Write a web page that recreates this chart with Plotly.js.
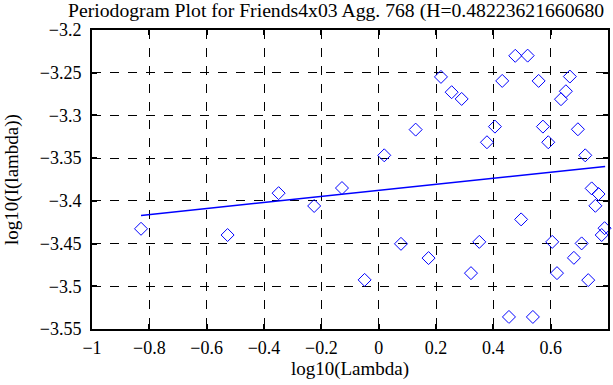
<!DOCTYPE html>
<html><head><meta charset="utf-8">
<script src="https://cdn.plot.ly/plotly-3.0.1.min.js"></script>
<style>html,body{margin:0;padding:0;background:#fff}#plot{width:613px;height:385px}</style>
</head><body><div id="plot"></div>
<script>
const logLambda = [-0.829,-0.527,-0.349,-0.225,-0.128,
  0.4765,0.5197,0.2173,0.431,0.558,0.667,0.2546,0.2895,0.653,0.636,0.129,0.4056,0.573,0.695,0.3777,0.5916,0.0195,0.7206,
  0.743,0.767,0.756,0.497,0.788,0.778,0.0778,0.351,0.6055,0.708,0.174,0.681,-0.049,0.322,0.622,0.731,0.4545,0.538];
const logI = [-3.4327,-3.440,-3.391,-3.406,-3.385,
  -3.2302,-3.230,-3.2549,-3.2596,-3.2596,-3.2545,-3.2728,-3.2807,-3.2717,-3.281,-3.3166,-3.3131,-3.3131,-3.3162,-3.3314,-3.3314,-3.3467,-3.3467,
  -3.3854,-3.392,-3.4058,-3.4217,-3.432,-3.440,-3.4503,-3.448,-3.448,-3.4498,-3.467,-3.4667,-3.4925,-3.4846,-3.4846,-3.4928,-3.5359,-3.5359];
const fitX = [-0.829, 0.79];
const fitY = [-3.417, -3.3597];
const xTickVals = [-1,-0.8,-0.6,-0.4,-0.2,0,0.2,0.4,0.6,0.8];
const xTickText = ['\u22121','\u22120.8','\u22120.6','\u22120.4','\u22120.2','0','0.2','0.4','0.6','0.8'];
const yTickVals = [-3.55,-3.5,-3.45,-3.4,-3.35,-3.3,-3.25,-3.2];
const yTickText = ['\u22123.55','\u22123.5','\u22123.45','\u22123.4','\u22123.35','\u22123.3','\u22123.25','\u22123.2'];
const titleText = 'Periodogram Plot for Friends4x03 Agg. 768 (H=0.48223621660680';

const fam = 'Liberation Serif, Times New Roman, serif';
const tickFont = {family: fam, size: 18, color: '#000'};
const labFont = {family: fam, size: 19, color: '#000'};
const titleFont = {family: fam, size: 19.7, color: '#000'};
const axisCommon = {
  showline: true, linecolor: '#000', linewidth: 2, mirror: 'ticks',
  ticks: 'inside', ticklen: 5, tickwidth: 2, tickcolor: '#000',
  showgrid: true, gridcolor: '#000', gridwidth: 1, griddash: 'dash',
  zeroline: false, tickfont: tickFont
};
const traces = [
  {x: logLambda, y: logI, mode: 'markers', type: 'scatter',
   marker: {symbol: 'diamond-open', size: 10, color: '#0000ff', line: {width: 1, color: '#0000ff'}},
   cliponaxis: false, hoverinfo: 'none'},
  {x: fitX, y: fitY, mode: 'lines', type: 'scatter',
   line: {color: '#0000ff', width: 1.5}, hoverinfo: 'none'}
];
const layout = {
  width: 613, height: 385, showlegend: false,
  paper_bgcolor: '#fff', plot_bgcolor: '#fff', font: labFont,
  margin: {l: 92, r: 5, t: 30, b: 56},
  title: {text: titleText, font: titleFont, xref: 'container', x: 68/613, xanchor: 'left', yref: 'container', y: 1 - 10/385, yanchor: 'middle'},
  xaxis: Object.assign({}, axisCommon, {range: [-1, 0.8], tickvals: xTickVals, ticktext: xTickText,
    ticklabelstandoff: 1,
    title: {text: 'log10(Lambda)', font: labFont, standoff: 4}}),
  yaxis: Object.assign({}, axisCommon, {range: [-3.55, -3.2], tickvals: yTickVals, ticktext: yTickText,
    ticklabelstandoff: 5,
    title: {text: 'log10(I(lambda))', font: labFont, standoff: 16}})
};
Plotly.newPlot('plot', traces, layout, {displayModeBar: false, staticPlot: true});
</script></body></html>
